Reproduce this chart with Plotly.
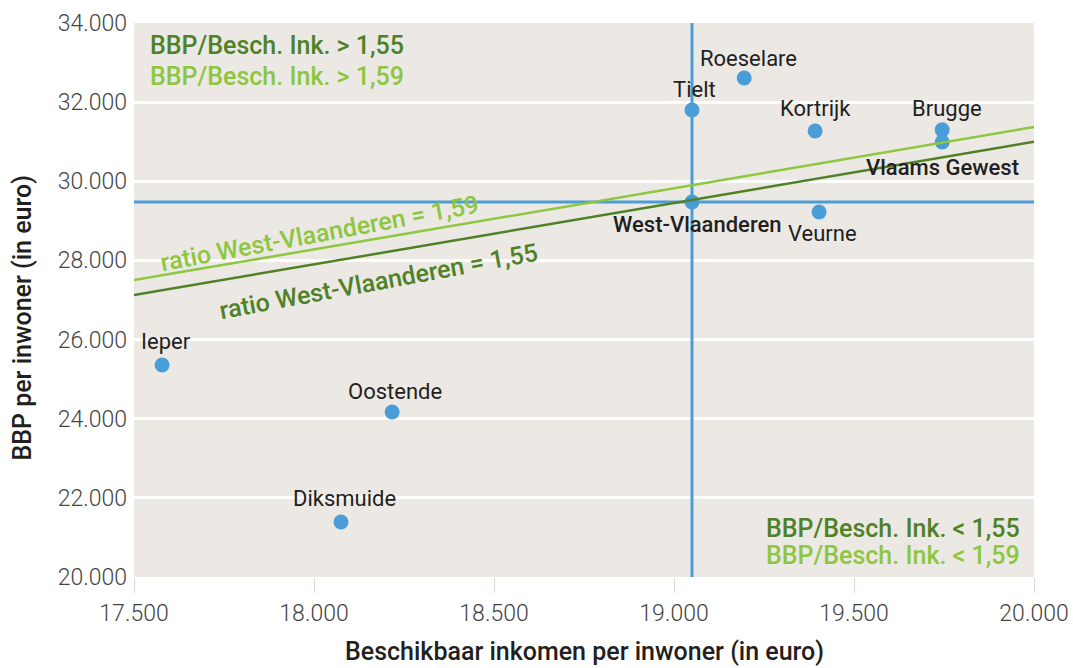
import plotly.graph_objects as go

# ---- data ----
regions = ["Tielt", "Roeselare", "Kortrijk", "Brugge", "Vlaams Gewest",
           "West-Vlaanderen", "Veurne", "Ieper", "Oostende", "Diksmuide"]
income = [19050, 19195, 19392, 19745, 19745, 19050, 19403, 17578, 18217, 18075]
gdp = [31800, 32610, 31271, 31300, 30993, 29476, 29224, 25357, 24169, 21389]

ratio_x = [17500, 20000]
ratio_155_y = [27125, 31000]
ratio_159_y = [27505, 31372]

x_ticks = [17500, 18000, 18500, 19000, 19500, 20000]
y_ticks = [20000, 22000, 24000, 26000, 28000, 30000, 32000, 34000]

BLUE = "#4a9dd6"
DARK_GREEN = "#4f8127"
LIGHT_GREEN = "#8dc63f"
TEXT = "#231f20"
FONT = "Roboto"

wv_i = regions.index("West-Vlaanderen")
wv_x, wv_y = income[wv_i], gdp[wv_i]

fig = go.Figure()

# crosshair through West-Vlaanderen
fig.add_trace(go.Scatter(x=[wv_x, wv_x], y=[y_ticks[0], y_ticks[-1]], mode="lines",
                         line=dict(color=BLUE, width=3), hoverinfo="skip", showlegend=False))
fig.add_trace(go.Scatter(x=[x_ticks[0], x_ticks[-1]], y=[wv_y, wv_y], mode="lines",
                         line=dict(color=BLUE, width=3), hoverinfo="skip", showlegend=False))

# points
fig.add_trace(go.Scatter(x=income, y=gdp, mode="markers", text=regions,
                         marker=dict(color=BLUE, size=15), showlegend=False))

# ratio lines
fig.add_trace(go.Scatter(x=ratio_x, y=ratio_159_y, mode="lines",
                         line=dict(color=LIGHT_GREEN, width=2.5), showlegend=False))
fig.add_trace(go.Scatter(x=ratio_x, y=ratio_155_y, mode="lines",
                         line=dict(color=DARK_GREEN, width=2.5), showlegend=False))

# point labels: (dx px, dy px, weight)
label_pos = {
    "Tielt": (2, 21, 400),
    "Roeselare": (4, 20, 400),
    "Kortrijk": (0, 22, 400),
    "Brugge": (5, 21, 400),
    "Vlaams Gewest": (0, -26, 500),
    "West-Vlaanderen": (5, -22, 500),
    "Veurne": (3, -22, 400),
    "Ieper": (4, 24, 400),
    "Oostende": (3, 21, 400),
    "Diksmuide": (3, 24, 400),
}
for name, xv, yv in zip(regions, income, gdp):
    dx, dy, w = label_pos[name]
    fig.add_annotation(x=xv, y=yv, xref="x", yref="y", text=name, showarrow=False,
                       xshift=dx, yshift=dy,
                       font=dict(family=FONT, size=22, color=TEXT, weight=w))

# ratio line labels
fig.add_annotation(x=18014, y=28693, xref="x", yref="y", text="ratio West-Vlaanderen = 1,59",
                   showarrow=False, textangle=-10.5,
                   font=dict(family=FONT, size=25, color=LIGHT_GREEN, weight=500))
fig.add_annotation(x=18178, y=27455, xref="x", yref="y", text="ratio West-Vlaanderen = 1,55",
                   showarrow=False, textangle=-10.5,
                   font=dict(family=FONT, size=25, color=DARK_GREEN, weight=500))

# corner texts
CORNER = dict(family=FONT, size=25, weight=500)
fig.add_annotation(x=0.015, y=0.96, xref="paper", yref="paper", xanchor="left", yanchor="middle",
                   text="BBP/Besch. Ink. > 1,55", showarrow=False,
                   font=dict(CORNER, color=DARK_GREEN))
fig.add_annotation(x=0.015, y=0.904, xref="paper", yref="paper", xanchor="left", yanchor="middle",
                   text="BBP/Besch. Ink. > 1,59", showarrow=False,
                   font=dict(CORNER, color=LIGHT_GREEN))
fig.add_annotation(x=0.987, y=0.088, xref="paper", yref="paper", xanchor="right", yanchor="middle",
                   text="BBP/Besch. Ink. < 1,55", showarrow=False,
                   font=dict(CORNER, color=DARK_GREEN))
fig.add_annotation(x=0.987, y=0.038, xref="paper", yref="paper", xanchor="right", yanchor="middle",
                   text="BBP/Besch. Ink. < 1,59", showarrow=False,
                   font=dict(CORNER, color=LIGHT_GREEN))

# axis titles
TITLE = dict(family=FONT, size=25, color=TEXT, weight=500)
fig.add_annotation(x=-0.124, y=0.469, xref="paper", yref="paper", xanchor="center", yanchor="middle",
                   text="BBP per inwoner (in euro)", textangle=-90, showarrow=False, font=TITLE)
fig.add_annotation(x=0.5, y=-0.1635, xref="paper", yref="paper", xanchor="center", yanchor="bottom",
                   text="Beschikbaar inkomen per inwoner (in euro)", showarrow=False, font=TITLE)

fig.update_layout(
    width=1073, height=668,
    margin=dict(l=134, r=39, t=23, b=91, autoexpand=False),
    paper_bgcolor="white",
    plot_bgcolor="#ece9e5",
    separators=",.",
    showlegend=False,
    font=dict(family=FONT, color=TEXT),
)
TICKFONT = dict(family=FONT, size=23, color="#444444", weight=300)
fig.update_xaxes(
    range=[x_ticks[0], x_ticks[-1]], tickvals=x_ticks, tickformat=",d",
    showgrid=False, zeroline=False, showline=False, automargin=False,
    ticks="outside", ticklen=15, tickcolor="#dcd8d3", tickwidth=1,
    tickfont=TICKFONT,
)
fig.update_yaxes(
    range=[y_ticks[0], y_ticks[-1]], tickvals=y_ticks, tickformat=",d",
    showgrid=True, gridcolor="white", gridwidth=2.5, zeroline=False, showline=False,
    automargin=False, ticks="", ticklabelstandoff=6,
    tickfont=TICKFONT,
)

fig.write_html(
    "out.html",
    config={"displayModeBar": False},
    post_script="document.body.style.margin='0px';document.body.style.overflow='hidden';",
)
